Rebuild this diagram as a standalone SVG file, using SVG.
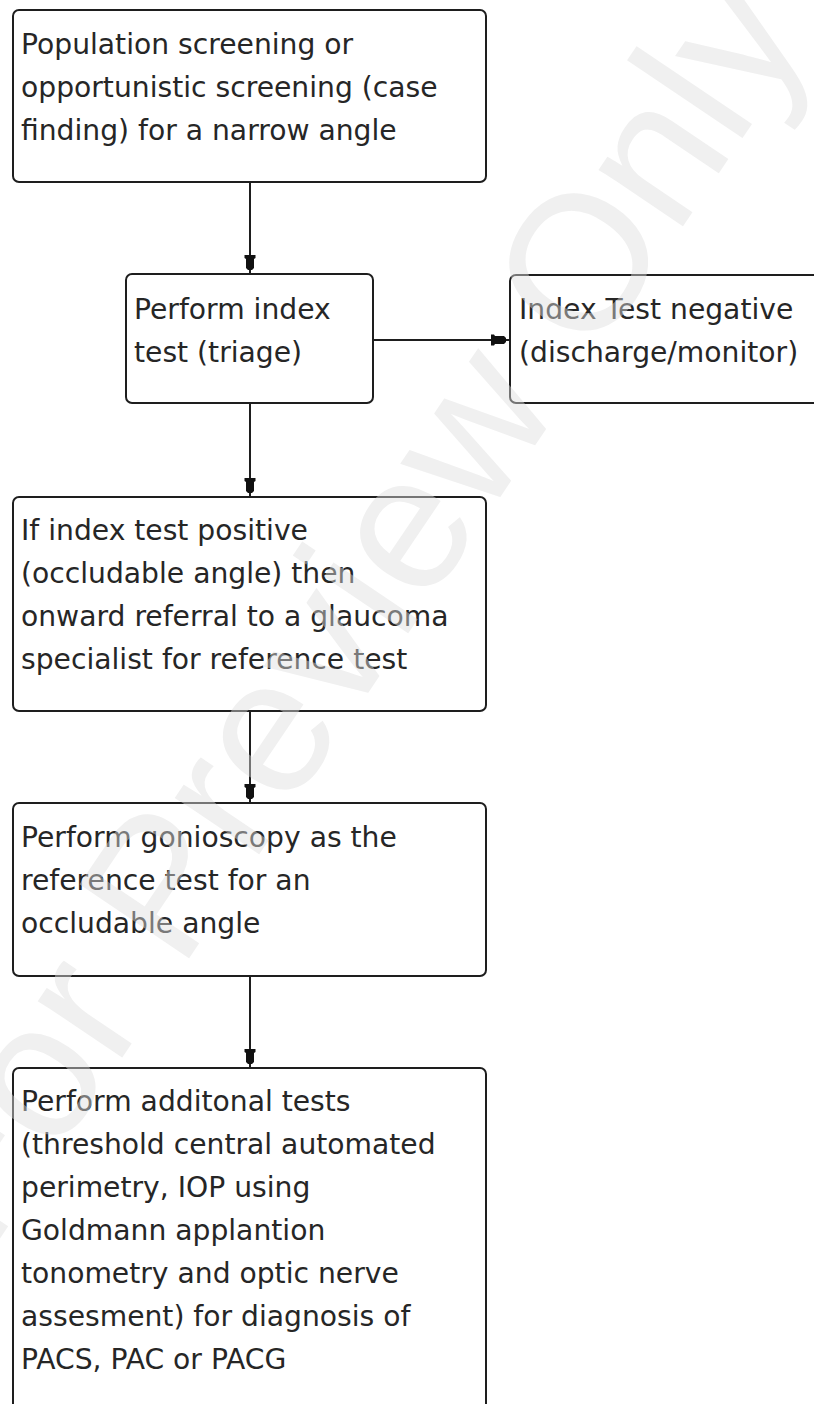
<svg xmlns="http://www.w3.org/2000/svg" width="814" height="1404" viewBox="0 0 814 1404">
  <style>
    .box { fill: #ffffff; stroke: #1e1e1e; stroke-width: 2; }
    .lbl { font-family: "DejaVu Sans", "Liberation Sans", sans-serif; font-size: 28.2px; fill: #262626; }
    .conn { stroke: #1e1e1e; stroke-width: 2; fill: none; marker-end: url(#arrow); }
    .wm { font-family: "Liberation Sans", Arial, sans-serif; font-size: 192px; fill: #dedede; opacity: 0.45; }
  </style>
  <defs>
    <marker id="arrow" markerUnits="userSpaceOnUse" viewBox="0 0 20 12" refX="20" refY="6" markerWidth="20" markerHeight="12" orient="auto">
      <path d="M1,0.5 H4 L5,2 H14 L16,4 V8 L14,10 H5 L4,11.5 H1 Z" fill="#111111"/>
    </marker>
  </defs>
  <rect width="814" height="1404" fill="#ffffff"/>

  <g id="connectors">
    <line class="conn" x1="250" y1="182" x2="250" y2="274"/>
    <line class="conn" x1="373" y1="340" x2="510" y2="340"/>
    <line class="conn" x1="250" y1="403" x2="250" y2="497"/>
    <line class="conn" x1="250" y1="711" x2="250" y2="803"/>
    <line class="conn" x1="250" y1="976" x2="250" y2="1068"/>
  </g>

  <g id="node-screening">
    <rect class="box" x="13" y="10" width="473" height="172" rx="6"/>
    <text class="lbl">
      <tspan x="21" y="54">Population screening or</tspan>
      <tspan x="21" y="97">opportunistic screening (case</tspan>
      <tspan x="21" y="140">finding) for a narrow angle</tspan>
    </text>
  </g>

  <g id="node-index-test">
    <rect class="box" x="126" y="274" width="247" height="129" rx="6"/>
    <text class="lbl">
      <tspan x="134" y="319">Perform index</tspan>
      <tspan x="134" y="362">test (triage)</tspan>
    </text>
  </g>

  <g id="node-negative">
    <rect class="box" x="510" y="275" width="330" height="128" rx="6"/>
    <text class="lbl">
      <tspan x="519" y="319">Index Test negative</tspan>
      <tspan x="519" y="362">(discharge/monitor)</tspan>
    </text>
  </g>

  <g id="node-positive">
    <rect class="box" x="13" y="497" width="473" height="214" rx="6"/>
    <text class="lbl">
      <tspan x="21" y="540">If index test positive</tspan>
      <tspan x="21" y="583">(occludable angle) then</tspan>
      <tspan x="21" y="626">onward referral to a glaucoma</tspan>
      <tspan x="21" y="669">specialist for reference test</tspan>
    </text>
  </g>

  <g id="node-gonioscopy">
    <rect class="box" x="13" y="803" width="473" height="173" rx="6"/>
    <text class="lbl">
      <tspan x="21" y="847">Perform gonioscopy as the</tspan>
      <tspan x="21" y="890">reference test for an</tspan>
      <tspan x="21" y="933">occludable angle</tspan>
    </text>
  </g>

  <g id="node-additional">
    <rect class="box" x="13" y="1068" width="473" height="360" rx="6"/>
    <text class="lbl">
      <tspan x="21" y="1111">Perform additonal tests</tspan>
      <tspan x="21" y="1154">(threshold central automated</tspan>
      <tspan x="21" y="1197">perimetry, IOP using</tspan>
      <tspan x="21" y="1240">Goldmann applantion</tspan>
      <tspan x="21" y="1283">tonometry and optic nerve</tspan>
      <tspan x="21" y="1326">assesment) for diagnosis of</tspan>
      <tspan x="21" y="1369">PACS, PAC or PACG</tspan>
    </text>
  </g>

  <g id="watermark">
    <text class="wm" text-anchor="middle" transform="translate(401,644) rotate(-56)">For Preview Only</text>
  </g>
</svg>
